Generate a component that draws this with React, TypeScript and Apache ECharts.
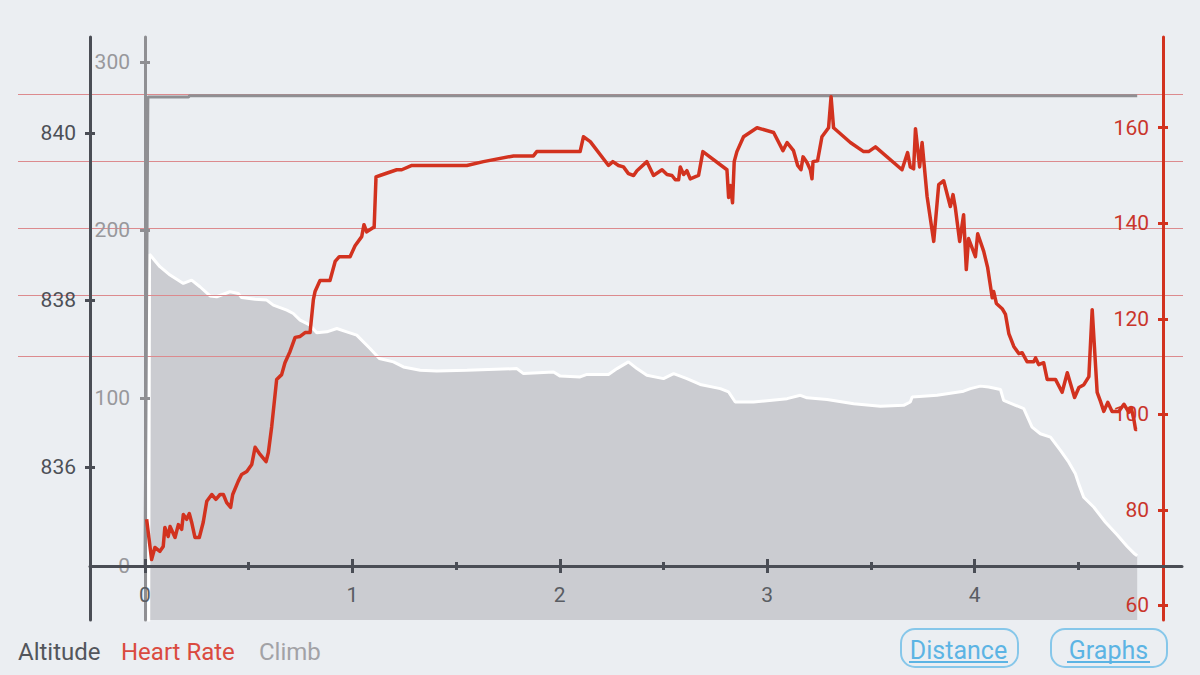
import React, { useEffect, useRef } from "react";
import * as echarts from "echarts";

// ---------- data ----------
const distanceLabels = [0, 1, 2, 3, 4];
const distanceHalfTicks = [0.5, 1.5, 2.5, 3.5, 4.5];
const altitudeTicks = [836, 838, 840];
const climbTicks = [0, 100, 200, 300];
const heartRateTicks = [60, 80, 100, 120, 140, 160];
const heartRateZones = [166.96, 152.93, 138.9, 124.87, 112.1];

const altitude: [number, number][] = [
  [0.018, 834.0], [0.022, 838.55], [0.032, 838.52], [0.072, 838.4], [0.121, 838.3], [0.185, 838.2],
  [0.225, 838.24], [0.265, 838.16], [0.314, 838.05], [0.346, 838.04], [0.41, 838.1], [0.45, 838.08],
  [0.466, 838.03], [0.531, 838.01], [0.587, 838.0], [0.619, 837.94], [0.684, 837.88], [0.715, 837.84],
  [0.748, 837.76], [0.796, 837.7], [0.828, 837.61], [0.877, 837.62], [0.925, 837.66], [0.973, 837.62],
  [1.021, 837.58], [1.085, 837.42], [1.13, 837.3], [1.198, 837.26], [1.246, 837.2], [1.327, 837.16],
  [1.407, 837.15], [1.552, 837.16], [1.793, 837.18], [1.825, 837.12], [1.97, 837.14], [2.002, 837.09],
  [2.098, 837.08], [2.131, 837.11], [2.235, 837.11], [2.276, 837.18], [2.331, 837.26], [2.372, 837.18],
  [2.42, 837.1], [2.5, 837.06], [2.549, 837.12], [2.613, 837.06], [2.677, 836.99], [2.774, 836.94],
  [2.814, 836.9], [2.846, 836.78], [2.934, 836.78], [3.096, 836.82], [3.16, 836.86], [3.192, 836.83],
  [3.289, 836.81], [3.417, 836.76], [3.546, 836.73], [3.658, 836.74], [3.69, 836.78], [3.699, 836.84],
  [3.819, 836.86], [3.947, 836.91], [3.98, 836.94], [4.028, 836.97], [4.068, 836.96], [4.125, 836.93],
  [4.14, 836.8], [4.237, 836.7], [4.277, 836.48], [4.317, 836.4], [4.366, 836.36], [4.414, 836.2],
  [4.454, 836.06], [4.486, 835.92], [4.502, 835.8], [4.526, 835.64], [4.575, 835.52], [4.631, 835.34],
  [4.687, 835.19], [4.736, 835.05], [4.768, 834.97], [4.784, 834.94],
];

const heartRate: [number, number][] = [
  [0.008, 78.0], [0.032, 69.6], [0.048, 72.1], [0.072, 71.3], [0.088, 72.3], [0.096, 76.3], [0.112, 74.4],
  [0.121, 76.5], [0.145, 74.2], [0.161, 76.9], [0.177, 75.9], [0.185, 79.0], [0.201, 78.0], [0.214, 79.2],
  [0.225, 77.4], [0.241, 74.2], [0.262, 74.2], [0.281, 77.4], [0.298, 81.8], [0.322, 83.2], [0.342, 82.2],
  [0.362, 83.2], [0.378, 83.2], [0.394, 81.5], [0.413, 80.5], [0.423, 83.2], [0.45, 86.0], [0.466, 87.4],
  [0.491, 88.0], [0.515, 89.5], [0.531, 93.1], [0.555, 91.6], [0.584, 90.1], [0.595, 92.0], [0.611, 97.4],
  [0.635, 107.3], [0.659, 108.3], [0.675, 110.8], [0.699, 113.1], [0.724, 116.1], [0.748, 116.3],
  [0.772, 117.1], [0.796, 117.1], [0.812, 124.0], [0.82, 125.7], [0.844, 128.0], [0.892, 128.0],
  [0.917, 132.0], [0.937, 133.0], [0.989, 133.0], [1.013, 135.3], [1.045, 137.2], [1.056, 139.7],
  [1.069, 138.2], [1.101, 139.1], [1.105, 139.1], [1.114, 149.7], [1.133, 150.0], [1.214, 151.2],
  [1.238, 151.2], [1.287, 152.1], [1.552, 152.1], [1.632, 152.9], [1.777, 154.1], [1.873, 154.1],
  [1.889, 155.0], [2.098, 155.0], [2.114, 158.1], [2.147, 157.1], [2.235, 152.1], [2.256, 152.9],
  [2.283, 152.1], [2.307, 151.8], [2.331, 150.4], [2.356, 150.0], [2.372, 151.0], [2.42, 152.9],
  [2.452, 150.0], [2.493, 151.2], [2.517, 150.2], [2.541, 150.0], [2.557, 149.1], [2.573, 149.1],
  [2.581, 151.8], [2.597, 150.2], [2.613, 151.0], [2.629, 149.3], [2.669, 150.0], [2.69, 155.0],
  [2.806, 151.2], [2.814, 145.4], [2.822, 147.9], [2.833, 144.3], [2.841, 152.9], [2.854, 155.0],
  [2.886, 158.1], [2.951, 160.0], [3.031, 159.0], [3.076, 155.2], [3.096, 156.9], [3.127, 155.2],
  [3.147, 152.1], [3.163, 151.2], [3.173, 153.9], [3.192, 152.7], [3.208, 151.2], [3.216, 149.3],
  [3.221, 152.9], [3.243, 153.1], [3.264, 158.1], [3.296, 160.0], [3.308, 166.5], [3.32, 160.0],
  [3.401, 156.9], [3.465, 155.0], [3.489, 155.0], [3.522, 156.0], [3.65, 151.2], [3.677, 154.8],
  [3.69, 151.8], [3.706, 151.4], [3.715, 159.8], [3.735, 151.8], [3.747, 156.9], [3.771, 145.6],
  [3.803, 136.2], [3.827, 148.1], [3.851, 148.9], [3.883, 143.5], [3.896, 146.0], [3.907, 143.3],
  [3.928, 136.2], [3.947, 141.8], [3.96, 130.3], [3.971, 136.8], [4.004, 133.0], [4.015, 137.8],
  [4.044, 134.1], [4.063, 130.7], [4.085, 124.4], [4.092, 125.7], [4.105, 123.2], [4.133, 122.1],
  [4.149, 120.9], [4.165, 116.9], [4.189, 114.2], [4.213, 112.7], [4.229, 112.9], [4.253, 111.0],
  [4.285, 111.0], [4.294, 111.8], [4.309, 110.4], [4.333, 110.8], [4.35, 107.3], [4.39, 107.3],
  [4.422, 104.6], [4.447, 108.7], [4.482, 103.5], [4.503, 105.6], [4.527, 106.2], [4.551, 107.9],
  [4.567, 121.9], [4.591, 104.6], [4.607, 102.7], [4.623, 100.6], [4.642, 102.5], [4.663, 100.6],
  [4.695, 100.6], [4.72, 102.1], [4.744, 100.4], [4.755, 101.4], [4.768, 98.9], [4.776, 96.8], [4.784, 96.8],
];

const climb: [number, number][] = [
  [0, 0], [0.014, 279.2], [0.21, 279.2], [0.215, 279.9], [4.784, 279.9],
];

// axis ranges (as seen in the reference)
const X_MIN = -0.265, X_MAX = 5.0;
const ALT_MIN = 834.17, ALT_MAX = 841.15;
const CLIMB_MIN = -32.14, CLIMB_MAX = 314.88;
const HR_MIN = 56.92, HR_MAX = 179.0;

const FONT = 'Roboto, "Noto Sans", sans-serif';
const BG = "#ebeef2";
const DARK = "#4a4d55";
const GRAY = "#8f8f93";
const RED = "#d2321f";

function yAxisPair(base: any, ticks: number[], color: string, labelColor: string, labelInside: boolean, margin: number) {
  const main = {
    ...base,
    type: "value",
    gridIndex: 1,
    z: 3,
    axisLine: { show: true, onZero: false, lineStyle: { color, width: 3 } },
    axisTick: { show: true, customValues: ticks, length: 5, lineStyle: { color, width: 3 } },
    axisLabel: {
      show: true, customValues: ticks, inside: labelInside, margin, color: labelColor,
      fontSize: 21, fontFamily: FONT, formatter: (v: number) => String(Math.round(v)),
    },
    splitLine: { show: false },
  };
  const twin = {
    ...base,
    type: "value",
    gridIndex: 1,
    z: 3,
    axisLine: { show: false, onZero: false },
    axisTick: { show: true, inside: true, customValues: ticks, length: 5, lineStyle: { color, width: 3 } },
    axisLabel: { show: false },
    splitLine: { show: false },
  };
  return [main, twin];
}

function xAxisTicks(ticks: number[], len: number, inside: boolean, withLabels: boolean) {
  return {
    type: "value",
    gridIndex: 1,
    position: "bottom",
    offset: -54,
    min: X_MIN,
    max: X_MAX,
    z: 6,
    axisLine: { show: withLabels, onZero: false, lineStyle: { color: DARK, width: 3 } },
    axisTick: { show: true, inside, customValues: ticks, length: len, lineStyle: { color: DARK, width: 3 } },
    axisLabel: withLabels
      ? {
          show: true, customValues: distanceLabels, margin: 18, color: "#5a5d63",
          fontSize: 21, fontFamily: FONT, formatter: (v: number) => String(Math.round(v)),
        }
      : { show: false },
    splitLine: { show: false },
  };
}

const option: any = {
  animation: false,
  backgroundColor: BG,
  grid: [
    { left: 18, right: 17, top: 37, bottom: 55, containLabel: false, outerBoundsMode: "none" },
    { left: 90, right: 18, top: 37, bottom: 55, containLabel: false, outerBoundsMode: "none" },
  ],
  xAxis: [
    { type: "value", gridIndex: 0, min: 0, max: 1, show: false },
    xAxisTicks(distanceLabels, 7, false, true),
    xAxisTicks(distanceLabels, 7, true, false),
    xAxisTicks(distanceHalfTicks, 4, false, false),
    xAxisTicks(distanceHalfTicks, 4, true, false),
  ],
  yAxis: [
    { type: "value", gridIndex: 0, min: HR_MIN, max: HR_MAX, show: false },
    ...yAxisPair({ position: "left", offset: 0, min: ALT_MIN, max: ALT_MAX }, altitudeTicks, DARK, "#4d5057", false, 14),
    ...yAxisPair({ position: "left", offset: -55, min: CLIMB_MIN, max: CLIMB_MAX }, climbTicks, GRAY, "#98989c", false, 15),
    ...yAxisPair({ position: "right", offset: -19, min: HR_MIN, max: HR_MAX }, heartRateTicks, RED, "#c9352b", true, 14),
  ],
  series: [
    {
      name: "Altitude",
      type: "line",
      xAxisIndex: 1,
      yAxisIndex: 1,
      data: altitude,
      z: 1,
      symbol: "none",
      lineStyle: { color: "#ffffff", width: 3 },
      areaStyle: { color: "#cbccd1", opacity: 1, origin: "start" },
      silent: true,
    },
    {
      name: "Zones",
      type: "line",
      xAxisIndex: 0,
      yAxisIndex: 0,
      data: [],
      z: 2,
      silent: true,
      markLine: {
        silent: true,
        z: 2,
        symbol: ["none", "none"],
        label: { show: false },
        lineStyle: { color: "#dc8a8e", width: 1, type: "solid" },
        data: heartRateZones.map((v) => ({ yAxis: v })),
      },
    },
    {
      name: "Climb",
      type: "line",
      xAxisIndex: 1,
      yAxisIndex: 3,
      data: climb,
      z: 4,
      symbol: "none",
      lineStyle: { color: GRAY, width: 3 },
      silent: true,
    },
    {
      name: "Heart Rate",
      type: "line",
      xAxisIndex: 1,
      yAxisIndex: 5,
      data: heartRate,
      z: 5,
      symbol: "none",
      lineStyle: { color: RED, width: 3.5, join: "round" },
      silent: true,
    },
  ],
  graphic: [
    { type: "text", left: 18, top: 640, style: { text: "Altitude", fill: "#53565c", fontSize: 24, fontFamily: FONT } },
    { type: "text", left: 121, top: 640, style: { text: "Heart Rate", fill: "#da4a3f", fontSize: 24, fontFamily: FONT } },
    { type: "text", left: 259, top: 640, style: { text: "Climb", fill: "#a2a2a6", fontSize: 24, fontFamily: FONT } },
    { type: "rect", shape: { x: 901, y: 629, width: 117, height: 38, r: 14 }, style: { fill: "none", stroke: "#86c7ea", lineWidth: 2 } },
    { type: "text", x: 958.5, y: 650, style: { text: "Distance", fill: "#5cb4e4", fontSize: 25, fontFamily: FONT, align: "center", verticalAlign: "middle" } },
    { type: "line", shape: { x1: 909, y1: 662, x2: 1008, y2: 662 }, style: { stroke: "#5cb4e4", lineWidth: 2 } },
    { type: "rect", shape: { x: 1051, y: 629, width: 116, height: 38, r: 14 }, style: { fill: "none", stroke: "#86c7ea", lineWidth: 2 } },
    { type: "text", x: 1108.5, y: 650, style: { text: "Graphs", fill: "#5cb4e4", fontSize: 25, fontFamily: FONT, align: "center", verticalAlign: "middle" } },
    { type: "line", shape: { x1: 1067, y1: 662, x2: 1150, y2: 662 }, style: { stroke: "#5cb4e4", lineWidth: 2 } },
  ],
};

export default function App() {
  const ref = useRef<HTMLDivElement>(null);
  useEffect(() => {
    document.body.style.margin = "0";
    document.body.style.background = BG;
    const chart = echarts.init(ref.current!, undefined, { renderer: "svg" });
    chart.setOption(option);
    return () => chart.dispose();
  }, []);
  return <div ref={ref} style={{ position: "fixed", left: 0, top: 0, width: 1200, height: 675 }} />;
}
